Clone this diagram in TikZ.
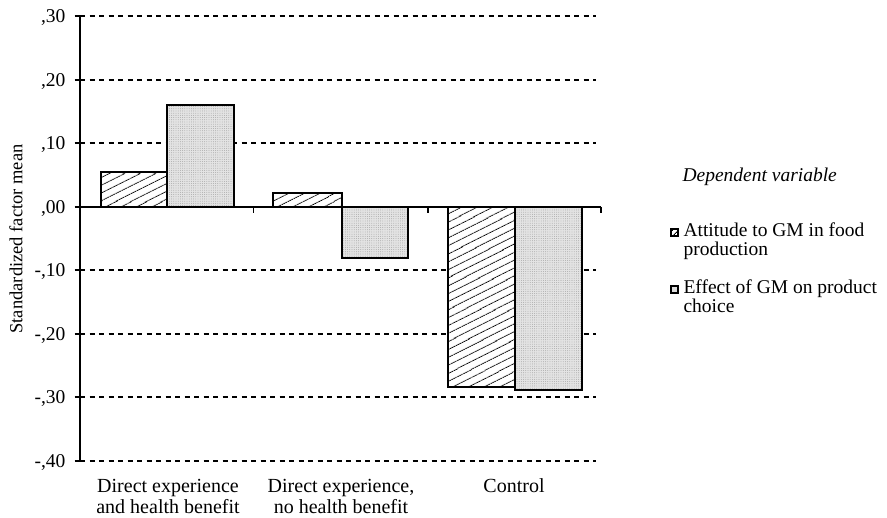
\documentclass[tikz,border=0pt]{standalone}
\usepackage{fontspec}
\setmainfont{Liberation Serif}
\usetikzlibrary{patterns.meta}
\begin{document}
\begin{tikzpicture}[x=1pt,y=-1pt,
  font=\fontsize{19.5}{22}\selectfont,
  gridline/.style={line width=1.5pt, dash pattern=on 5pt off 4.5pt},
  axisline/.style={line width=1.5pt},
  hatchbar/.style={draw=black, line width=1.4pt, preaction={fill=white},
    pattern={Lines[angle=27,distance=6.5pt,line width=0.9pt]}},
  dotbar/.style={draw=black, line width=1.4pt, preaction={fill=gray!22},
    pattern={Dots[radius=0.4pt,distance=2.2pt]}, pattern color=gray!85},
  hatchsw/.style={draw=black, line width=1.1pt, preaction={fill=white},
    pattern={Lines[angle=45,distance=4pt,line width=0.9pt]}},
  dotsw/.style={draw=black, line width=1.1pt, preaction={fill=gray!22},
    pattern={Dots[radius=0.4pt,distance=2pt]}, pattern color=gray!85},
  ticklab/.style={anchor=base east},
  catlab/.style={anchor=base, font=\fontsize{20}{22}\selectfont},
  leglab/.style={anchor=base west, font=\fontsize{19.5}{22}\selectfont}
]
\useasboundingbox (0,0) rectangle (887,518);

% grid lines
\foreach \yy in {16,80,143,270,334,397,461}
  \draw[gridline] (80,\yy) -- (596,\yy);

% bars
\draw[hatchbar] (101,207) rectangle (167,172);
\draw[dotbar]   (167,207) rectangle (234,105);
\draw[hatchbar] (273,207) rectangle (342,193);
\draw[dotbar]   (342,207) rectangle (408,258);
\draw[hatchbar] (448,207) rectangle (515,387);
\draw[dotbar]   (515,207) rectangle (582,390);

% axes
\draw[axisline] (80,16) -- (80,461);
\draw[axisline] (80,207) -- (601,207);
\foreach \xx in {253.5,428,601}
  \draw[axisline] (\xx,207) -- (\xx,213);
\foreach \yy in {16,80,143,207,270,334,397,461}
  \draw[axisline] (74.5,\yy) -- (80,\yy);

% tick labels
\node[ticklab] (t30) at (69,22.5) {,30};
\node[ticklab] (t20) at (69,86.5) {,20};
\node[ticklab] (t10) at (69,149.5) {,10};
\node[ticklab] (t00) at (69,213.5) {,00};
\node[ticklab] (tm10) at (69,276.5) {-,10};
\node[ticklab] (tm20) at (69,340.5) {-,20};
\node[ticklab] (tm30) at (69,403.5) {-,30};
\node[ticklab] (tm40) at (69,467.5) {-,40};

% axis title
\node[rotate=90, font=\fontsize{18.5}{22}\selectfont] (ylab) at (16,239) {Standardized factor mean};

% category labels
\node[catlab] (c1a) at (168,493) {Direct experience};
\node[catlab] (c1b) at (168,514) {and health benefit};
\node[catlab] (c2a) at (341,493) {Direct experience,};
\node[catlab] (c2b) at (341,514) {no health benefit};
\node[catlab] (c3a) at (514,493) {Control};

% legend
\node[leglab, font=\fontsize{19.5}{22}\selectfont\itshape] (legt) at (679,182) {Dependent variable};
\draw[hatchsw] (671,229) rectangle (678,236);
\node[leglab] (la1) at (680,237) {Attitude to GM in food};
\node[leglab] (la2) at (680,256) {production};
\draw[dotsw] (671,286) rectangle (678,293);
\node[leglab] (lb1) at (680,294) {Effect of GM on product};
\node[leglab] (lb2) at (680,313) {choice};
\end{tikzpicture}
\end{document}
